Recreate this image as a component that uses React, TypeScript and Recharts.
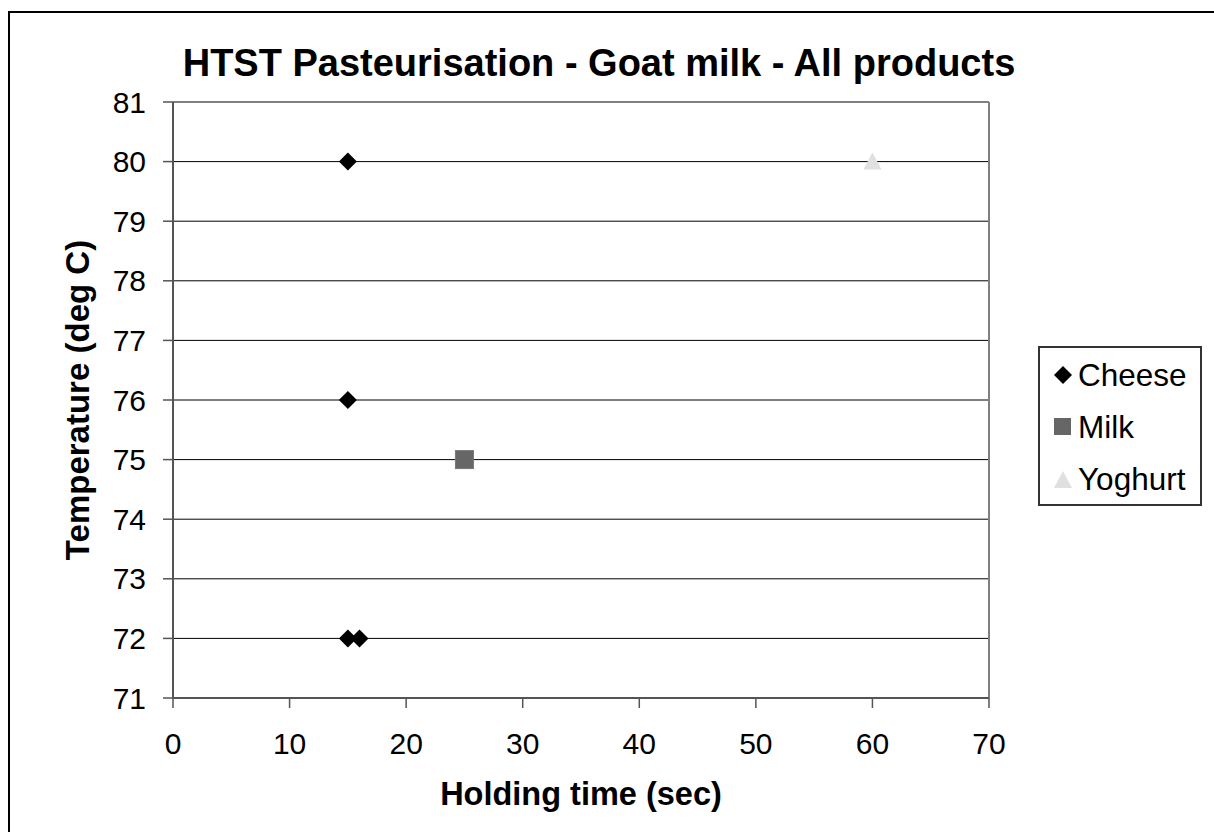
import React from "react";
import {
  ScatterChart,
  Scatter,
  XAxis,
  YAxis,
  CartesianGrid,
  ReferenceLine,
  Legend,
  Label,
} from "recharts";

// Holding time (sec) and temperature (deg C) per product
const cheeseTime = [15, 15, 15, 16];
const cheeseTemp = [80, 76, 72, 72];
const milkTime = [25];
const milkTemp = [75];
const yoghurtTime = [60];
const yoghurtTemp = [80];

const xTicks = [0, 10, 20, 30, 40, 50, 60, 70];
const yTicks = [71, 72, 73, 74, 75, 76, 77, 78, 79, 80, 81];

const FONT = '"Liberation Sans", Arial, sans-serif';

const toPoints = (xs: number[], ys: number[]) =>
  xs.map((x, i) => ({ x, y: ys[i] }));

const cheeseData = toPoints(cheeseTime, cheeseTemp);
const milkData = toPoints(milkTime, milkTemp);
const yoghurtData = toPoints(yoghurtTime, yoghurtTemp);

const Diamond = ({ cx, cy }: any) => (
  <path
    d={`M${cx},${cy - 9} L${cx + 9},${cy} L${cx},${cy + 9} L${cx - 9},${cy} Z`}
    fill="#000"
  />
);

const Square = ({ cx, cy }: any) => (
  <rect x={cx - 9} y={cy - 9} width={18} height={18} fill="#666" stroke="#777" strokeWidth={1} />
);

const Triangle = ({ cx, cy }: any) => (
  <path
    d={`M${cx},${cy - 9} L${cx + 9},${cy + 8} L${cx - 9},${cy + 8} Z`}
    fill="#e0e0e0"
  />
);

const legendItems = [
  { name: "Cheese", icon: "diamond" },
  { name: "Milk", icon: "square" },
  { name: "Yoghurt", icon: "triangle" },
];

const LegendIcon = ({ kind }: { kind: string }) => (
  <svg width={20} height={20} style={{ display: "block" }}>
    {kind === "diamond" && <Diamond cx={10} cy={10} />}
    {kind === "square" && (
      <rect x={1} y={1} width={17} height={17} fill="#666" />
    )}
    {kind === "triangle" && <Triangle cx={10} cy={11} />}
  </svg>
);

const LegendBox = () => (
  <div
    style={{
      width: 164,
      height: 160,
      boxSizing: "border-box",
      border: "2px solid #333",
      background: "#fff",
      paddingTop: 1,
      fontFamily: FONT,
    }}
  >
    {legendItems.map((item) => (
      <div
        key={item.name}
        style={{
          display: "flex",
          alignItems: "center",
          height: 52,
          fontSize: 31.5,
          color: "#000",
        }}
      >
        <div style={{ width: 13 }} />
        <LegendIcon kind={item.icon} />
        <span style={{ marginLeft: 5 }}>{item.name}</span>
      </div>
    ))}
  </div>
);

export default function App() {
  return (
    <div
      style={{
        position: "fixed",
        left: 0,
        top: 0,
        width: 1214,
        height: 832,
        overflow: "hidden",
        background: "#fff",
      }}
    >
      <div
        style={{
          position: "absolute",
          left: 8,
          top: 11,
          width: 1400,
          height: 1000,
          borderTop: "2px solid #000",
          borderLeft: "2px solid #000",
        }}
      />
      <div
        style={{
          position: "absolute",
          left: 0,
          top: 41,
          width: 1198,
          textAlign: "center",
          fontFamily: FONT,
          fontWeight: "bold",
          fontSize: 38,
          lineHeight: "44px",
          color: "#000",
        }}
      >
        HTST Pasteurisation - Goat milk - All products
      </div>
      <div style={{ position: "absolute", left: 0, top: 0 }}>
        <ScatterChart
          width={1214}
          height={832}
          margin={{ top: 102, right: 225, bottom: 0, left: 0 }}
        >
          <CartesianGrid vertical={false} stroke="#000" strokeWidth={1} />
          <XAxis
            type="number"
            dataKey="x"
            domain={[0, 70]}
            ticks={xTicks}
            interval={0}
            height={134}
            tickSize={10}
            tickMargin={25}
            axisLine={{ stroke: "#555", strokeWidth: 2 }}
            tickLine={{ stroke: "#555", strokeWidth: 1.5 }}
            tick={{ fill: "#000", fontSize: 30, fontFamily: FONT }}
          >
            <Label
              content={({ viewBox }: any) => (
                <text
                  x={viewBox.x + viewBox.width / 2}
                  y={viewBox.y + 107}
                  textAnchor="middle"
                  fontFamily={FONT}
                  fontWeight="bold"
                  fontSize={32.5}
                  fill="#000"
                >
                  Holding time (sec)
                </text>
              )}
            />
          </XAxis>
          <YAxis
            type="number"
            dataKey="y"
            domain={[71, 81]}
            ticks={yTicks}
            interval={0}
            width={173}
            tickSize={10}
            tickMargin={17}
            axisLine={{ stroke: "#555", strokeWidth: 2 }}
            tickLine={{ stroke: "#555", strokeWidth: 1.5 }}
            tick={{ fill: "#000", fontSize: 30, fontFamily: FONT }}
          >
            <Label
              content={({ viewBox }: any) => {
                const cx = 89;
                const cy = viewBox.y + viewBox.height / 2;
                return (
                  <text
                    x={cx}
                    y={cy}
                    transform={`rotate(-90 ${cx} ${cy})`}
                    textAnchor="middle"
                    fontFamily={FONT}
                    fontWeight="bold"
                    fontSize={33}
                    fill="#000"
                  >
                    Temperature (deg C)
                  </text>
                );
              }}
            />
          </YAxis>
          <ReferenceLine y={81} stroke="#808080" strokeWidth={2} />
          <ReferenceLine x={70} stroke="#808080" strokeWidth={2} />
          <Legend
            layout="vertical"
            align="center"
            verticalAlign="middle"
            content={() => <LegendBox />}
            wrapperStyle={{ position: "absolute", left: 1038, top: 346, width: 164, height: 160 }}
          />
          <Scatter
            name="Cheese"
            data={cheeseData}
            shape={(p: any) => <Diamond cx={p.cx} cy={p.cy} />}
            isAnimationActive={false}
          />
          <Scatter
            name="Milk"
            data={milkData}
            shape={(p: any) => <Square cx={p.cx} cy={p.cy} />}
            isAnimationActive={false}
          />
          <Scatter
            name="Yoghurt"
            data={yoghurtData}
            shape={(p: any) => <Triangle cx={p.cx} cy={p.cy} />}
            isAnimationActive={false}
          />
        </ScatterChart>
      </div>
    </div>
  );
}
